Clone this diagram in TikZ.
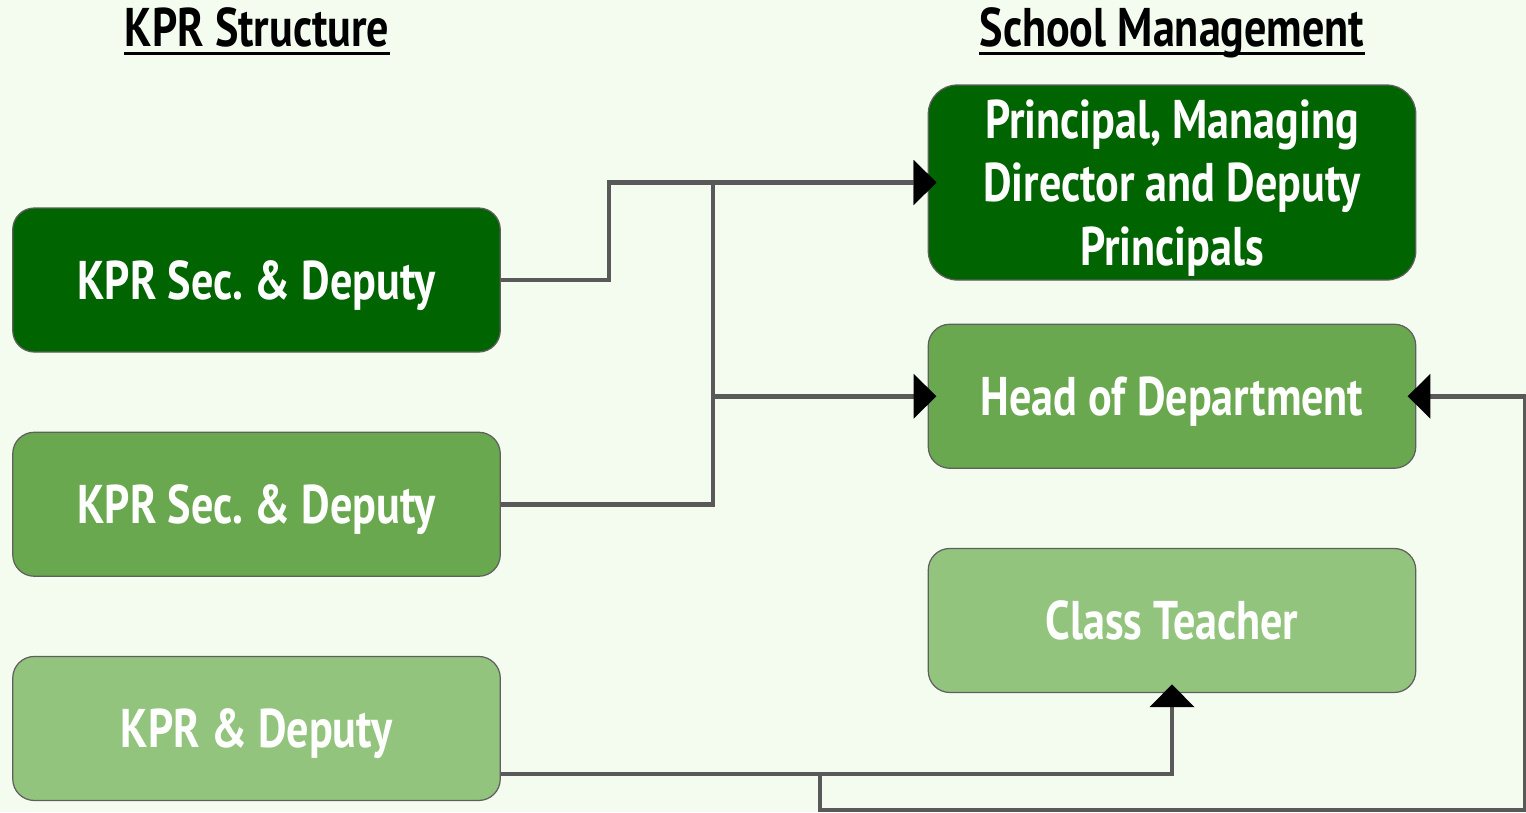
\documentclass[tikz,border=0pt]{standalone}
\usepackage{fontspec}
\setmainfont{PT Sans}[FakeStretch=0.81]
\usepackage{xcolor}
\usepackage{tikz}
\usetikzlibrary{arrows.meta, positioning, calc}
\frenchspacing
\definecolor{bgpale}{HTML}{F4FCEF}
\definecolor{kprdark}{HTML}{006400}
\definecolor{kprmid}{HTML}{6AA84F}
\definecolor{kprlight}{HTML}{93C47D}
\definecolor{boxline}{HTML}{5F5F5F}
\definecolor{linkgray}{HTML}{595959}
\tikzstyle{box} = [rectangle, rounded corners=0.43cm, minimum width=9.75cm, minimum height=2.88cm, align=center, text depth=0pt, draw=boxline, line width=0.7pt, text=white, font=\fontsize{31}{36}\selectfont\bfseries]
\tikzstyle{darkbox} = [box, fill=kprdark]
\tikzstyle{midbox} = [box, fill=kprmid]
\tikzstyle{lightbox} = [box, fill=kprlight]
\tikzstyle{heading} = [inner sep=0pt, anchor=base, font=\fontsize{31}{35}\selectfont\bfseries]
\tikzstyle{uline} = [line width=1.7pt]
\tikzstyle{link} = [draw=linkgray, line width=2.6pt]
\tikzstyle{arrow} = [link, shorten >=-5pt, -{Triangle[length=13pt, width=25pt, color=black]}]

\begin{document}
\begin{tikzpicture}
    \useasboundingbox (0,0) rectangle (30.52,-16.24);
    \fill[bgpale] (0,0) rectangle (30.52,-16.24);

    % headings
    \node (kprhead) [heading] at (5.14,-0.92) {KPR Structure};
    \node (schoolhead) [heading] at (23.44,-0.92) {School Management};
    \draw[uline] ([yshift=-4pt]kprhead.base west) -- ([yshift=-4pt]kprhead.base east);
    \draw[uline] ([yshift=-4pt]schoolhead.base west) -- ([yshift=-4pt]schoolhead.base east);

    % KPR side
    \node (kprsec) [darkbox] at (5.13,-5.60) {KPR Sec. \& Deputy};
    \node (kprsecb) [midbox, below=1.58cm of kprsec] {KPR Sec. \& Deputy};
    \node (kpr) [lightbox, below=1.58cm of kprsecb] {KPR \& Deputy};

    % school side
    \node (principal) [darkbox, minimum height=3.9cm, rounded corners=0.58cm] at (23.44,-3.65) {Principal, Managing\\Director and Deputy\\Principals};
    \node (hod) [midbox, below=0.86cm of principal] {Head of Department};
    \node (teacher) [lightbox, below=1.58cm of hod] {Class Teacher};

    % bends
    \coordinate (bendA) at (12.18,-4.5);
    \coordinate (bendB) at (14.26,-8.5);
    \coordinate (kprout) at ([yshift=0.54cm]kpr.south east);
    \coordinate (bendC) at (16.40,-16.2);
    \coordinate (farright) at (30.5,-16.2);

    \draw [arrow] (kprsec.east) -| (bendA) |- (principal.west);
    \draw [arrow] (kprsecb.east) -| (bendB) |- (principal.west);
    \draw [arrow] (kprsecb.east) -| (bendB) |- (hod.west);
    \draw [arrow] (kprout) -| (teacher.south);
    \draw [arrow] (kprout) -| (bendC) -- (farright) |- (hod.east);
\end{tikzpicture}
\end{document}
